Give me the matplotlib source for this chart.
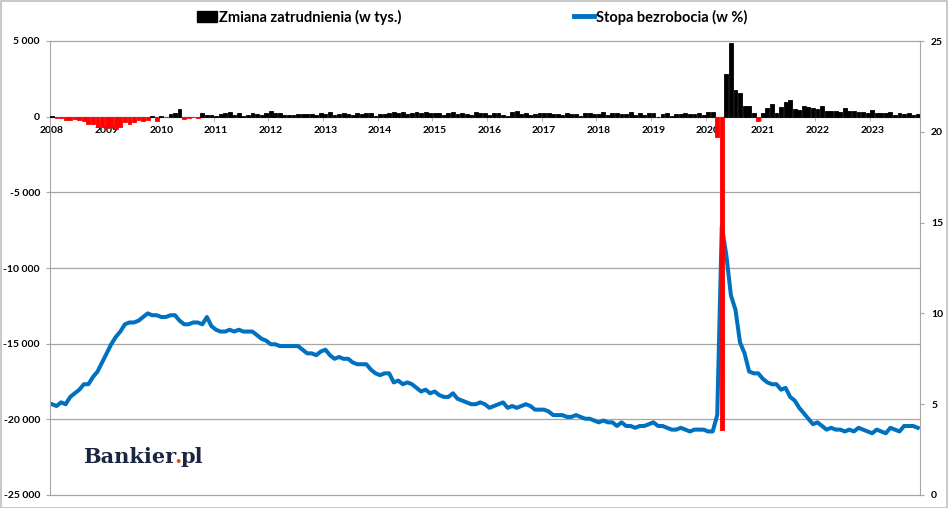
import matplotlib
matplotlib.use('Agg')
import matplotlib.pyplot as plt
import matplotlib.ticker as mticker
from matplotlib.patches import Rectangle, Patch
from matplotlib.lines import Line2D

# ---------------- data ----------------
years = list(range(2008, 2024))

# Monthly change in employment (thousands), Jan 2008 - Nov 2023
jobs_2008 = [20, -90, -70, -220, -190, -170, -220, -270, -460, -480, -700, -690]
jobs_2009 = [-780, -700, -800, -690, -350, -470, -330, -220, -300, -220, 60, -280]
jobs_2010 = [40, -50, 180, 250, 520, -160, -70, -40, -60, 260, 130, 80]
jobs_2011 = [60, 190, 220, 320, 100, 220, 70, 110, 240, 200, 140, 210]
jobs_2012 = [360, 230, 230, 80, 110, 90, 150, 170, 200, 150, 140, 240]
jobs_2013 = [200, 280, 140, 190, 220, 170, 120, 260, 190, 210, 260, 50]
jobs_2014 = [190, 150, 270, 330, 240, 300, 200, 230, 280, 230, 310, 250]
jobs_2015 = [230, 240, 90, 260, 340, 200, 250, 160, 100, 320, 250, 240]
jobs_2016 = [130, 240, 220, 140, 30, 330, 370, 150, 250, 140, 170, 230]
jobs_2017 = [220, 220, 150, 180, 120, 250, 190, 190, 40, 240, 220, 160]
jobs_2018 = [170, 300, 130, 220, 270, 190, 200, 280, 100, 250, 120, 210]
jobs_2019 = [260, 10, 150, 230, 60, 170, 150, 210, 160, 180, 210, 120]
jobs_2020 = [310, 290, -1370, -20700, 2830, 4850, 1730, 1580, 720, 680, 260, -270]
jobs_2021 = [230, 540, 850, 270, 610, 960, 1090, 480, 420, 680, 650, 590]
jobs_2022 = [500, 710, 400, 370, 390, 290, 570, 350, 350, 320, 290, 240]
jobs_2023 = [470, 250, 220, 220, 280, 100, 240, 170, 260, 110, 200]

# Unemployment rate (%), Jan 2008 - Nov 2023
unemp_2008 = [5.0, 4.9, 5.1, 5.0, 5.4, 5.6, 5.8, 6.1, 6.1, 6.5, 6.8, 7.3]
unemp_2009 = [7.8, 8.3, 8.7, 9.0, 9.4, 9.5, 9.5, 9.6, 9.8, 10.0, 9.9, 9.9]
unemp_2010 = [9.8, 9.8, 9.9, 9.9, 9.6, 9.4, 9.4, 9.5, 9.5, 9.4, 9.8, 9.3]
unemp_2011 = [9.1, 9.0, 9.0, 9.1, 9.0, 9.1, 9.0, 9.0, 9.0, 8.8, 8.6, 8.5]
unemp_2012 = [8.3, 8.3, 8.2, 8.2, 8.2, 8.2, 8.2, 8.0, 7.8, 7.8, 7.7, 7.9]
unemp_2013 = [8.0, 7.7, 7.5, 7.6, 7.5, 7.5, 7.3, 7.2, 7.2, 7.2, 6.9, 6.7]
unemp_2014 = [6.6, 6.7, 6.7, 6.2, 6.3, 6.1, 6.2, 6.1, 5.9, 5.7, 5.8, 5.6]
unemp_2015 = [5.7, 5.5, 5.4, 5.4, 5.6, 5.3, 5.2, 5.1, 5.0, 5.0, 5.1, 5.0]
unemp_2016 = [4.8, 4.9, 5.0, 5.1, 4.8, 4.9, 4.8, 4.9, 5.0, 4.9, 4.7, 4.7]
unemp_2017 = [4.7, 4.6, 4.4, 4.4, 4.4, 4.3, 4.3, 4.4, 4.3, 4.2, 4.2, 4.1]
unemp_2018 = [4.0, 4.1, 4.0, 4.0, 3.8, 4.0, 3.8, 3.8, 3.7, 3.8, 3.8, 3.9]
unemp_2019 = [4.0, 3.8, 3.8, 3.7, 3.6, 3.6, 3.7, 3.6, 3.5, 3.6, 3.6, 3.6]
unemp_2020 = [3.5, 3.5, 4.4, 14.8, 13.2, 11.0, 10.2, 8.4, 7.8, 6.8, 6.7, 6.7]
unemp_2021 = [6.4, 6.2, 6.1, 6.1, 5.8, 5.9, 5.4, 5.2, 4.8, 4.5, 4.2, 3.9]
unemp_2022 = [4.0, 3.8, 3.6, 3.7, 3.6, 3.6, 3.5, 3.6, 3.5, 3.7, 3.6, 3.5]
unemp_2023 = [3.4, 3.6, 3.5, 3.4, 3.7, 3.6, 3.5, 3.8, 3.8, 3.8, 3.7]

jobs = (jobs_2008 + jobs_2009 + jobs_2010 + jobs_2011 + jobs_2012 + jobs_2013 +
        jobs_2014 + jobs_2015 + jobs_2016 + jobs_2017 + jobs_2018 + jobs_2019 +
        jobs_2020 + jobs_2021 + jobs_2022 + jobs_2023)
unemp = (unemp_2008 + unemp_2009 + unemp_2010 + unemp_2011 + unemp_2012 + unemp_2013 +
         unemp_2014 + unemp_2015 + unemp_2016 + unemp_2017 + unemp_2018 + unemp_2019 +
         unemp_2020 + unemp_2021 + unemp_2022 + unemp_2023)

left_ticks = list(range(-25000, 5001, 5000))
right_ticks = [0, 5, 10, 15, 20, 25]

legend_bars = "Zmiana zatrudnienia (w tys.)"
legend_line = "Stopa bezrobocia (w %)"

# ---------------- style ----------------
plt.rcParams['font.family'] = ['Lato', 'DejaVu Sans']
GRID = '#A6A6A6'
BLUE = '#0070C0'
RED = '#FF0000'

W, H = 948, 508
fig = plt.figure(figsize=(W / 100, H / 100), dpi=100)
fig.patch.set_facecolor('white')

x0, x1, y_top, y_bot = 49.7, 920, 41, 495
ax = fig.add_axes([x0 / W, 1 - y_bot / H, (x1 - x0) / W, (y_bot - y_top) / H])
ax2 = ax.twinx()
ax.set_zorder(2)
ax2.set_zorder(1)
ax.patch.set_visible(False)

n = len(jobs)
xs = list(range(n))

# line (right axis)
ax2.plot(xs, unemp, color=BLUE, lw=2.9, solid_joinstyle='round', zorder=3)
ax2.set_ylim(0, 25)

# gridlines (behind line) at left-axis ticks
for t in left_ticks:
    ax2.plot([0, 1], [t, t], transform=ax.get_yaxis_transform(), color=GRID,
             lw=0.9, zorder=1, clip_on=False)

# bars (left axis)
colors = ['black' if v >= 0 else RED for v in jobs]
ax.bar(xs, jobs, width=0.85, color=colors, edgecolor=colors, linewidth=0.6, zorder=3)
ax.set_ylim(-25000, 5000)
ax.set_xlim(-0.5, n - 0.5)

# zero axis
ax.spines['bottom'].set_position(('data', 0))
ax.spines['bottom'].set_color(GRID)
ax.spines['bottom'].set_zorder(2)
ax.spines['top'].set_visible(False)
ax.spines['right'].set_visible(False)
ax.spines['left'].set_color(GRID)
for s in ['top', 'bottom', 'left']:
    ax2.spines[s].set_visible(False)
ax2.spines['right'].set_color(GRID)

ax.set_xticks([12 * k for k in range(len(years))])
ax.set_xticklabels([str(y) for y in years])
ax.set_xticks([12 * k - 0.5 for k in range(1, len(years))], minor=True)
ax.tick_params(axis='x', which='major', length=0, pad=7, labelsize=7.5)
ax.tick_params(axis='x', which='minor', length=3, color=GRID, direction='out')
for lbl in ax.get_xticklabels():
    lbl.set_fontweight('bold')

ax.set_yticks(left_ticks)
ax.yaxis.set_major_formatter(mticker.FuncFormatter(lambda v, p: f"{int(v):,}".replace(',', ' ')))
ax.tick_params(axis='y', length=3, color=GRID, pad=4, labelsize=7.5)
for lbl in ax.get_yticklabels():
    lbl.set_fontweight('bold')

ax2.set_yticks(right_ticks)
ax2.tick_params(axis='y', length=3, color=GRID, pad=5, labelsize=7.5)
for lbl in ax2.get_yticklabels():
    lbl.set_fontweight('bold')

# legends
leg_font = {'size': 10.5, 'weight': 'bold', 'family': ['Lato', 'DejaVu Sans']}
leg1 = fig.legend(handles=[Patch(facecolor='black', edgecolor='black')], labels=[legend_bars],
                  loc='center left', bbox_to_anchor=(197 / W, 1 - 17 / H), frameon=False,
                  prop=leg_font, handlelength=1.4, handleheight=0.72, handletextpad=0.1,
                  borderpad=0, borderaxespad=0)
leg2 = fig.legend(handles=[Line2D([0], [0], color=BLUE, lw=3.5)], labels=[legend_line],
                  loc='center left', bbox_to_anchor=(574 / W, 1 - 17 / H), frameon=False,
                  prop=leg_font, handlelength=1.4, handletextpad=0.1,
                  borderpad=0, borderaxespad=0)

# logo
logo_font = dict(fontsize=15, fontweight='bold', family='DejaVu Serif', va='baseline')
t1 = fig.text(83 / W, 1 - 463 / H, "Bankier", color='#1B2441', **logo_font)
t2 = fig.text(0, 0, ".", color='#E8471E', **logo_font)
t3 = fig.text(0, 0, "pl", color='#1B2441', **logo_font)
fig.canvas.draw()
r = fig.canvas.get_renderer()
bb1 = t1.get_window_extent(r)
t2.set_position(((bb1.x1 - 1.5) / W, 1 - 463 / H))
fig.canvas.draw()
bb2 = t2.get_window_extent(r)
t3.set_position(((bb2.x1 - 1.5) / W, 1 - 463 / H))

# outer border
fig.patches.append(Rectangle((0.5 / W, 0.5 / H), (W - 1.5) / W, (H - 1.5) / H,
                             transform=fig.transFigure, fill=False, edgecolor='#BFBFBF', lw=1.2))

fig.savefig('out.png', dpi=100)
